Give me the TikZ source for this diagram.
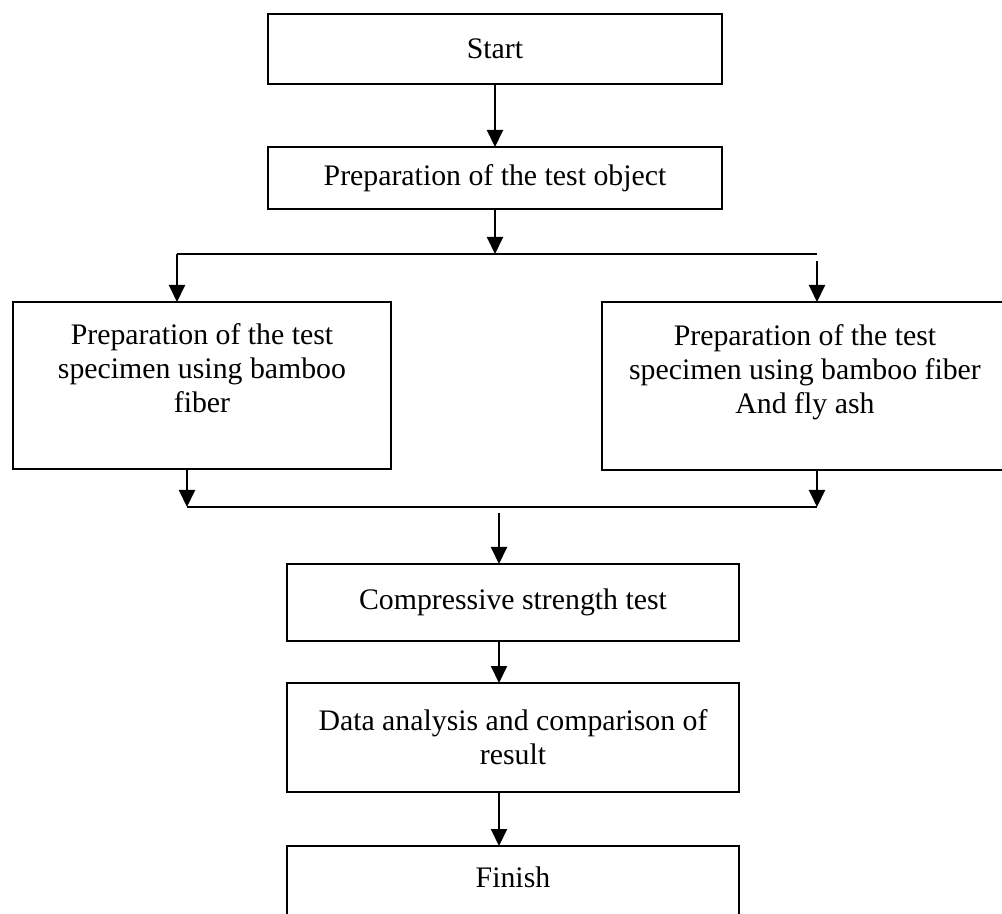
\documentclass[tikz,border=0pt]{standalone}
\usepackage{fontspec}
\setmainfont{Liberation Serif}
\usepackage{tikz}
\usetikzlibrary{shapes, positioning, arrows.meta}

\begin{document}
\begin{tikzpicture}[x=0.5pt, y=-0.5pt, line width=1pt, >={Triangle[length=8.5pt, width=8pt]}]
\tikzstyle{flow_box}=[rectangle, draw, outer sep=0, inner sep=2pt, align=center, font=\fontsize{14.9}{17}\selectfont]

\useasboundingbox (0,0) rectangle (1002,914);

\node[flow_box, minimum width=227pt, minimum height=35pt] at (495,49) (start) {Start};
\node[flow_box, minimum width=227pt, minimum height=31pt] at (495,178) (prep) {Preparation of the test object};

\node[flow_box, minimum width=189pt, minimum height=83.5pt] at (202,385.5) (bamboo) {Preparation of the test\\ specimen using bamboo\\ fiber\\ \mbox{}};
\node[flow_box, minimum width=203pt, minimum height=84pt] at (805,386) (flyash) {Preparation of the test\\ specimen using bamboo fiber\\ And fly ash\\ \mbox{}};

\node[flow_box, minimum width=226pt, minimum height=38.5pt] at (513,602.5) (comp) {Compressive strength test};
\node[flow_box, minimum width=226pt, minimum height=54.5pt] at (513,737.5) (data) {Data analysis and comparison of\\ result};
\node[flow_box, minimum width=226pt, anchor=north, inner ysep=10.5pt, text height=10pt, text depth=30pt] at (513,846) (finish) {Finish};

%split
\coordinate (split) at (495,254);
\coordinate (splitL) at (177,254);
\coordinate (splitR) at (817,254);
\coordinate (gapR) at (817,261);
%join
\coordinate (joinL) at (187,507);
\coordinate (joinR) at (817,507);
\coordinate (gapM) at (499,513);

\path [->] (start.south) edge (prep.north);
\path [->] (prep.south) edge (split);
\draw (splitL) -- (splitR);
\path [->] (splitL) edge (splitL |- bamboo.north);
\path [->] (gapR) edge (gapR |- flyash.north);

\draw [->] (joinL |- bamboo.south) -- (joinL);
\draw [->] (joinR |- flyash.south) -- (joinR);
\draw (joinL) -- (joinR);
\path [->] (gapM) edge (gapM |- comp.north);
\path [->] (gapM |- comp.south) edge (gapM |- data.north);
\path [->] (gapM |- data.south) edge (gapM |- finish.north);

\end{tikzpicture}
\end{document}
